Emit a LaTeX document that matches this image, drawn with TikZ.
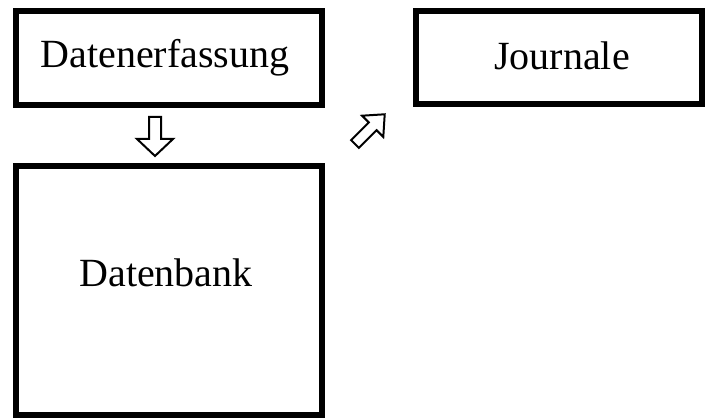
\documentclass[tikz,border=0pt]{standalone}
\usepackage{fontspec}
\setmainfont{Liberation Serif}
\begin{document}
\begin{tikzpicture}[x=1pt,y=-1pt,
  box/.style={draw=black, line width=6pt, fill=white, inner sep=0pt, font=\fontsize{40}{48}\selectfont},
  lbl/.style={inner sep=0pt, font=\fontsize{40}{48}\selectfont},
  blockarrow/.style={draw=black, line width=2pt, fill=white, line join=miter}]
\useasboundingbox (0,0) rectangle (707,419);
\node[box, minimum width=306pt, minimum height=94pt] (de) at (169,58) {};
\node[lbl, anchor=base] (det) at (165,68) {Datenerfassung};
\node[box, minimum width=286pt, minimum height=93pt] (jo) at (559,57.5) {};
\node[lbl, anchor=base] (jot) at (562,70) {Journale};
\node[box, minimum width=306pt, minimum height=249pt] (db) at (169,290.5) {};
\node[lbl, anchor=base] (dbt) at (166,286.5) {Datenbank};
% down block arrow
\begin{scope}[shift={(155,117)}]
  \draw[blockarrow] (-6,0) -- (6,0) -- (6,22) -- (18,22) -- (0,39) -- (-18,22) -- (-6,22) -- cycle;
\end{scope}
% diagonal block arrow
\begin{scope}[shift={(355,144)}, rotate=135]
  \draw[blockarrow] (-5.5,0) -- (5.5,0) -- (5.5,25) -- (15,25) -- (0,42) -- (-15,25) -- (-5.5,25) -- cycle;
\end{scope}
\end{tikzpicture}
\end{document}
